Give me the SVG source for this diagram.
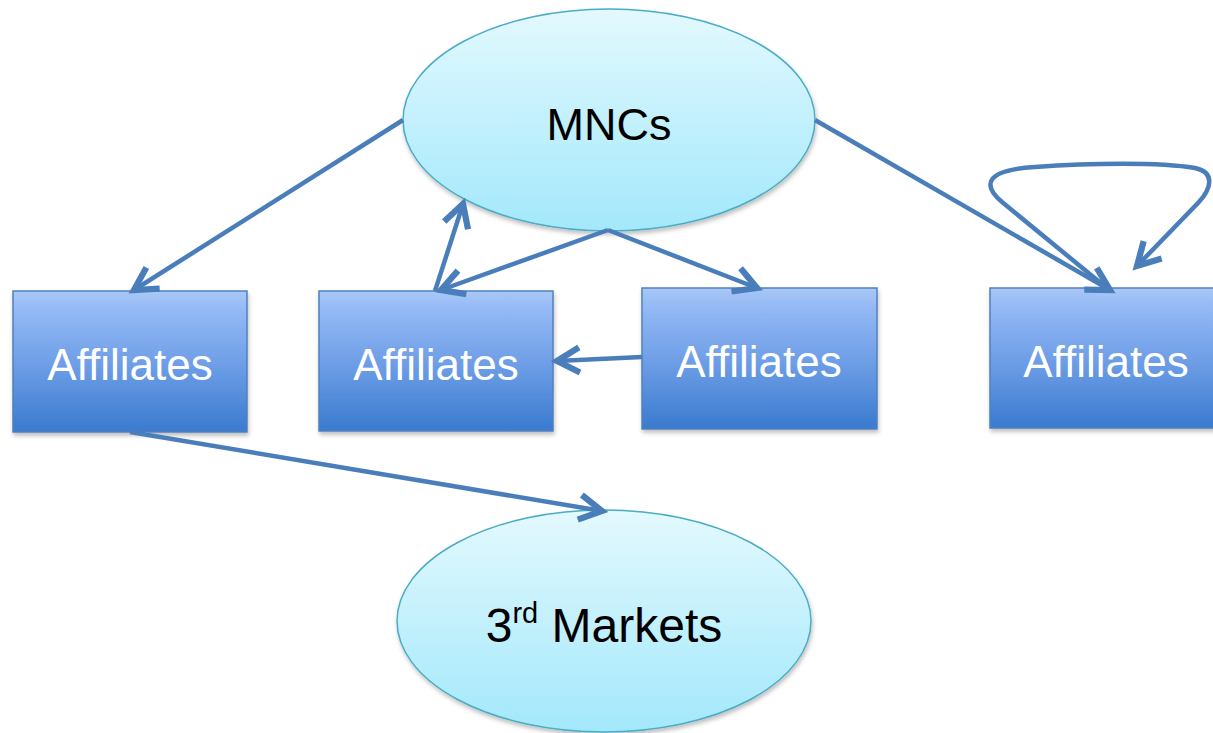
<svg xmlns="http://www.w3.org/2000/svg" width="1213" height="733" viewBox="0 0 1213 733">
<defs>
<linearGradient id="ellG" x1="0" y1="0" x2="0" y2="1">
<stop offset="0" stop-color="#e3f9fe"/>
<stop offset="1" stop-color="#a3e8fb"/>
</linearGradient>
<linearGradient id="boxG" x1="0" y1="0" x2="0" y2="1">
<stop offset="0" stop-color="#aac8f6"/>
<stop offset="0.12" stop-color="#95baf6"/>
<stop offset="0.55" stop-color="#6b9ce5"/>
<stop offset="1" stop-color="#3a7acf"/>
</linearGradient>
<filter id="sh" x="-10%" y="-10%" width="125%" height="130%">
<feDropShadow dx="1" dy="3" stdDeviation="2" flood-color="#000" flood-opacity="0.25"/>
</filter>
<marker id="arr" markerUnits="userSpaceOnUse" markerWidth="30" markerHeight="30" viewBox="-20 -12 24 24" refX="0" refY="0" orient="auto" overflow="visible">
<path d="M-18,-10 L0,0 L-18,10" fill="none" stroke="#4a7ebb" stroke-width="5" stroke-linejoin="miter"/>
</marker>
<style>
.ell{fill:url(#ellG);stroke:#4bacc6;stroke-width:1.5;filter:url(#sh)}
.box{fill:url(#boxG);stroke:#4f81bd;stroke-width:1.5;filter:url(#sh)}
.lbl{font-family:"Liberation Sans",Arial,sans-serif;font-size:44px;fill:#fff;text-anchor:middle}
.dark{font-family:"Liberation Sans",Arial,sans-serif;font-size:45px;fill:#000;text-anchor:middle}
.big{font-size:48px}
.sup{font-size:29px}
.con{fill:none;stroke:#4a7ebb;stroke-width:4.5;marker-end:url(#arr)}
</style>
</defs>
<g id="mncs">
<ellipse class="ell" cx="609" cy="120" rx="206" ry="111"/>
<text class="dark" x="609" y="140">MNCs</text>
</g>
<g id="markets">
<ellipse class="ell" cx="604" cy="621" rx="207" ry="111"/>
<text class="dark big" x="604" y="642">3<tspan class="sup" dy="-19">rd</tspan><tspan dy="19"> Markets</tspan></text>
</g>
<g id="aff1">
<rect class="box" x="13" y="291" width="234" height="141"/>
<text class="lbl" x="130" y="380">Affiliates</text>
</g>
<g id="aff2">
<rect class="box" x="319" y="291" width="234" height="140"/>
<text class="lbl" x="436" y="380">Affiliates</text>
</g>
<g id="aff3">
<rect class="box" x="642" y="288" width="235" height="141"/>
<text class="lbl" x="759" y="377">Affiliates</text>
</g>
<g id="aff4">
<rect class="box" x="990" y="288" width="234" height="140"/>
<text class="lbl" x="1106" y="377">Affiliates</text>
</g>
<g id="connectors">
<line class="con" x1="403" y1="120" x2="134" y2="290"/>
<line class="con" x1="435" y1="291" x2="463" y2="204"/>
<line class="con" x1="608" y1="230" x2="441" y2="290"/>
<line class="con" x1="608" y1="230" x2="757" y2="288"/>
<line class="con" x1="642" y1="357" x2="557" y2="361"/>
<line class="con" x1="815" y1="120" x2="1110" y2="290"/>
<path class="con" d="M1108,289 L1002,202 C982,185 985,170 1035,167 C1090,163 1160,162 1195,168 C1215,172 1212,188 1198,203 L1137,266"/>
<line class="con" x1="130" y1="432" x2="602" y2="511"/>
</g>
</svg>
